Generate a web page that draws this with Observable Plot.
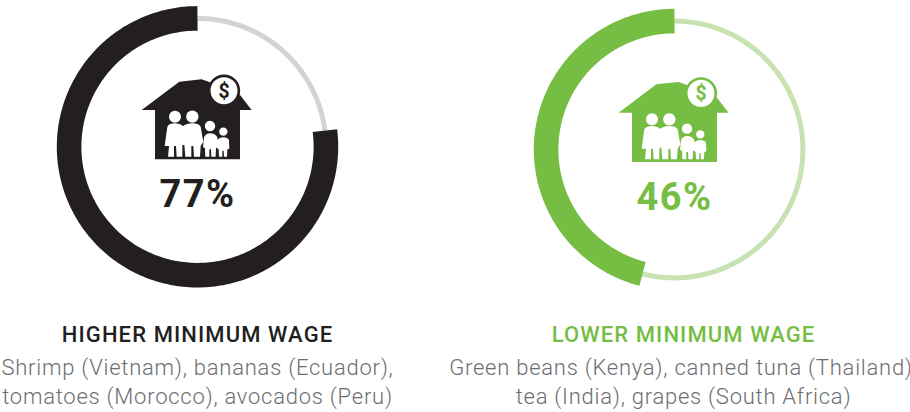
<!DOCTYPE html>
<html>
<head>
<meta charset="utf-8">
<script src="https://cdn.jsdelivr.net/npm/d3@7"></script>
<script src="https://cdn.jsdelivr.net/npm/@observablehq/plot@0.6"></script>
<style>
html,body{margin:0;padding:0;background:#fff}
svg{display:block}
.pct text{letter-spacing:1.5px}
.ttl text{letter-spacing:1.1px}
.dsc text{letter-spacing:0.75px}
</style>
</head>
<body>
<div id="chart"></div>
<script>
// Data
const groups = ["HIGHER MINIMUM WAGE", "LOWER MINIMUM WAGE"];
const shares = [77, 46];
const descriptionFirst = ["Shrimp (Vietnam), bananas (Ecuador),", "Green beans (Kenya), canned tuna (Thailand),"];
const descriptionSecond = ["tomatoes (Morocco), avocados (Peru)", "tea (India), grapes (South Africa)"];
const strongColors = ["#231f20", "#76bd43"];
const paleColors = ["#d1d3d4", "#c8e2b1"];

// Layout
const centerX = [197, 674];
const centerY = [146.3, 149];
const textX = [197, 683];
const radius = 128.4;
const STEPS = 240;

function arcPoints(g, fromPct, toPct) {
  const pts = [];
  for (let i = 0; i <= STEPS; i++) {
    const a = (fromPct + (toPct - fromPct) * i / STEPS) / 100 * 2 * Math.PI;
    pts.push({g, x: centerX[g] - radius * Math.sin(a), y: centerY[g] - radius * Math.cos(a)});
  }
  return pts;
}
const idx = groups.map((_, i) => i);
const tracks = idx.flatMap(g => arcPoints(g, shares[g], 100));
const values = idx.flatMap(g => arcPoints(g, 0, shares[g]));

// House icon, drawn in a local frame of 3x pixels relative to the top-left of its box
const housePath = "M35,150 L148,65 L215,58 L262,75 L330,105 L365,150 L330,150 L330,298 L75,298 L75,150 Z";
const peoplePath = [
  // left adult
  "M112,200 Q118,190 135,190 Q150,190 160,198 L163,255 L157,255 L157,290 L140,290 L138,258 L132,258 L132,290 L114,290 L117,258 L104,258 Z",
  // right adult
  "M160,198 Q170,190 187,190 Q205,190 212,200 L220,245 L212,258 L210,290 L192,290 L190,258 L184,258 L184,290 L166,290 L163,255 Z",
  // child
  "M222,232 Q228,220 240,220 Q255,220 262,232 L266,262 L258,264 L257,290 L244,290 L243,268 L238,268 L238,290 L226,290 L225,264 L219,262 Z",
  // small child
  "M263,240 Q268,232 280,232 Q292,232 297,240 L298,266 L292,268 L291,290 L282,290 L281,272 L277,272 L277,290 L267,290 L266,268 L262,266 Z"
].join(" ");
const heads = [[135,170,18],[187,170,18.5],[240,198,15.5],[280,215,12.5]];

function houseIcon(index, scales) {
  const root = d3.create("svg:g");
  idx.forEach(g => {
    const ox = scales.x(centerX[g]) - 66.7 - 130 + 130 - 0;
    const oy = scales.y(centerY[g]) - 146.3 + 60;
    const k = root.append("g").attr("transform", `translate(${scales.x(centerX[g]) - 67},${oy}) scale(${1/3})`);
    const c = strongColors[g];
    k.append("path").attr("d", housePath).attr("fill", c);
    k.append("path").attr("d", peoplePath).attr("fill", "#fff");
    heads.forEach(([x, y, r]) => k.append("circle").attr("cx", x).attr("cy", y).attr("r", r).attr("fill", "#fff"));
    k.append("circle").attr("cx", 282).attr("cy", 92).attr("r", 44.5).attr("fill", "#fff").attr("stroke", c).attr("stroke-width", 8);
    k.append("text").attr("x", 282).attr("y", 92).attr("dy", "0.36em").attr("text-anchor", "middle")
      .attr("font-family", "Roboto").attr("font-weight", 700).attr("font-size", 58).attr("fill", c).text("$");
  });
  return root.node();
}

const chart = Plot.plot({
  width: 910, height: 412,
  marginTop: 0, marginRight: 0, marginBottom: 0, marginLeft: 0,
  x: {domain: [0, 910], range: [0, 910], axis: null},
  y: {domain: [0, 412], range: [0, 412], axis: null},
  marks: [
    Plot.line(tracks, {x: "x", y: "y", z: "g", stroke: d => paleColors[d.g], strokeWidth: 5, strokeLinecap: "butt", strokeLinejoin: "round"}),
    Plot.line(values, {x: "x", y: "y", z: "g", stroke: d => strongColors[d.g], strokeWidth: 24.6, strokeLinecap: "butt", strokeLinejoin: "round"}),
    houseIcon,
    Plot.text(idx, {
      x: g => centerX[g], y: g => centerY[g] + 60,
      text: g => shares[g] + "%", fill: g => strongColors[g],
      fontFamily: "Roboto", fontWeight: 700, fontSize: 38, textAnchor: "middle", lineAnchor: "bottom", className: "pct"
    }),
    Plot.text(idx, {
      x: g => textX[g], y: 341,
      text: g => groups[g], fill: g => strongColors[g],
      fontFamily: "Roboto", fontWeight: 500, fontSize: 22, textAnchor: "middle", lineAnchor: "bottom", className: "ttl"
    }),
    Plot.text(idx, {
      x: g => textX[g], y: 374,
      text: g => descriptionFirst[g], fill: "#6d6e71",
      fontFamily: "Roboto", fontWeight: 300, fontSize: 22, textAnchor: "middle", lineAnchor: "bottom", className: "dsc"
    }),
    Plot.text(idx, {
      x: g => textX[g], y: 403,
      text: g => descriptionSecond[g], fill: "#6d6e71",
      fontFamily: "Roboto", fontWeight: 300, fontSize: 22, textAnchor: "middle", lineAnchor: "bottom", className: "dsc"
    })
  ]
});
document.getElementById("chart").append(chart);
</script>
</body>
</html>
